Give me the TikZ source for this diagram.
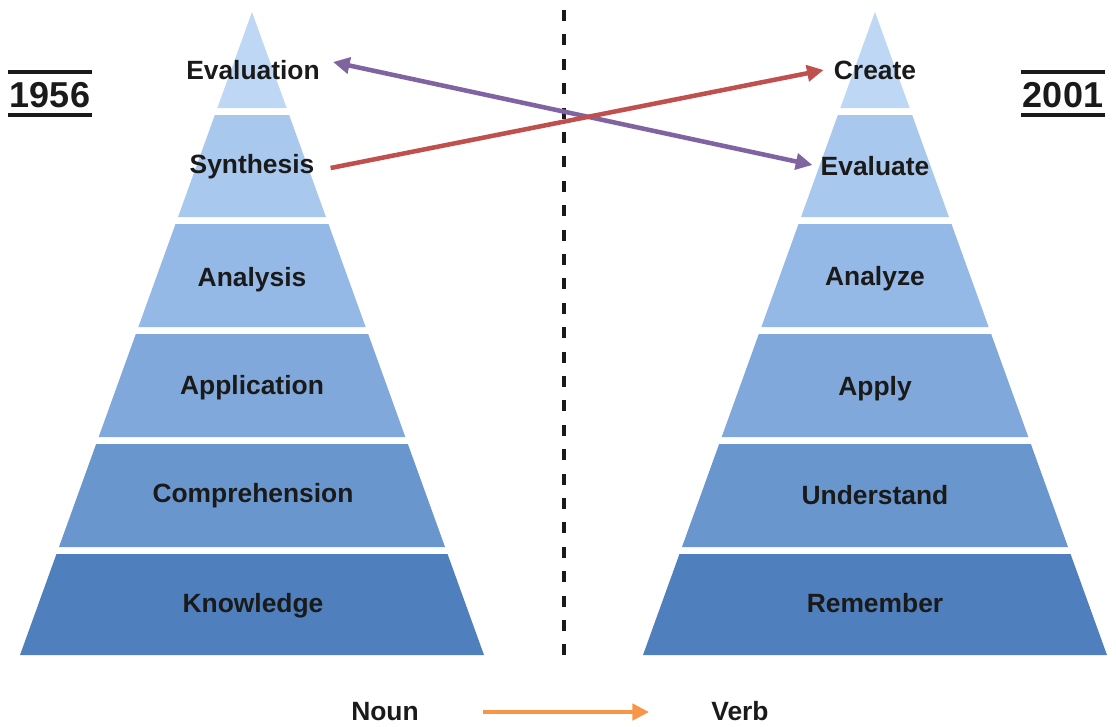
\documentclass[tikz,border=0pt]{standalone}
\usepackage{fontspec}
\setmainfont{Liberation Sans}
\usetikzlibrary{arrows.meta,calc}
\definecolor{lv1}{HTML}{BDD7F4}
\definecolor{lv2}{HTML}{A9C8EE}
\definecolor{lv3}{HTML}{95B9E6}
\definecolor{lv4}{HTML}{80A8DB}
\definecolor{lv5}{HTML}{6A96CE}
\definecolor{lv6}{HTML}{4F7FBC}
\definecolor{txt}{HTML}{1A1A1A}
\definecolor{purp}{HTML}{8064A2}
\definecolor{redd}{HTML}{C0504D}
\definecolor{orng}{HTML}{F79646}
\newcommand\pyrband[4]{%
  \fill[#4] ({#1-0.3608*(#2-12)},#2) -- ({#1+0.3608*(#2-12)},#2) -- ({#1+0.3608*(#3-12)},#3) -- ({#1-0.3608*(#3-12)},#3) -- cycle;}
\tikzset{
  lbl/.style={font=\fontsize{19.8}{22}\selectfont\bfseries, text=txt, inner sep=0pt, text height=14.1pt, text depth=0pt},
  yr/.style={font=\fontsize{27}{30}\selectfont\bfseries, text=txt, inner sep=0pt},
  arr/.style={line width=3.4pt, -{Triangle[length=12.5pt,width=12pt]}},
  darr/.style={line width=3.4pt, {Triangle[length=12.5pt,width=12pt]}-{Triangle[length=12.5pt,width=12pt]}}
}
\begin{document}
\begin{tikzpicture}[x=0.75pt,y=-0.75pt]
\useasboundingbox (0,0) rectangle (1116,726);
% pyramids
\foreach \c in {252,875}{
  \pyrband{\c}{12}{108}{lv1}
  \pyrband{\c}{115}{217}{lv2}
  \pyrband{\c}{224}{327}{lv3}
  \pyrband{\c}{334}{437}{lv4}
  \pyrband{\c}{444}{547}{lv5}
  \pyrband{\c}{554}{655}{lv6}
}
% dashed divider
\draw[line width=3pt, dash pattern=on 8.3pt off 10pt, draw=txt] (564,10) -- (564,660);
% left labels
\node[lbl] (evaluation) at (253,70) {Evaluation};
\node[lbl] (synthesis) at (252,164) {Synthesis};
\node[lbl] (analysis) at (252,277) {Analysis};
\node[lbl] (application) at (252,385) {Application};
\node[lbl] (comprehension) at (253,493) {Comprehension};
\node[lbl] (knowledge) at (253,603) {Knowledge};
% right labels
\node[lbl] (create) at (875,70) {Create};
\node[lbl] (evaluate) at (875,166) {Evaluate};
\node[lbl] (analyze) at (875,276) {Analyze};
\node[lbl] (apply) at (875,386) {Apply};
\node[lbl] (understand) at (875,495) {Understand};
\node[lbl] (remember) at (875,603) {Remember};
% years
\node[yr] (y1956) at (50,95) {1956};
\draw[line width=2.6pt, txt] (8,72) -- (92,72);
\draw[line width=2.6pt, txt] (8,115) -- (92,115);
\node[yr] (y2001) at (1063,95) {2001};
\draw[line width=2.6pt, txt] (1021,72) -- (1105,72);
\draw[line width=2.6pt, txt] (1021,115) -- (1105,115);
% crossing arrows
\draw[darr, purp] ($(evaluation.east)+(13,-8)$) -- ($(evaluate.west)+(-8,-1)$);
\draw[arr, redd] ($(synthesis.east)+(16,4)$) -- ($(create.west)+(-10,0)$);
% noun -> verb
\node[lbl] (noun) at (385,711) {Noun};
\node[lbl] (verb) at (740,711) {Verb};
\draw[arr, orng] ($(noun.east)+(64,1)$) -- ($(verb.west)+(-62,1)$);
\end{tikzpicture}
\end{document}
